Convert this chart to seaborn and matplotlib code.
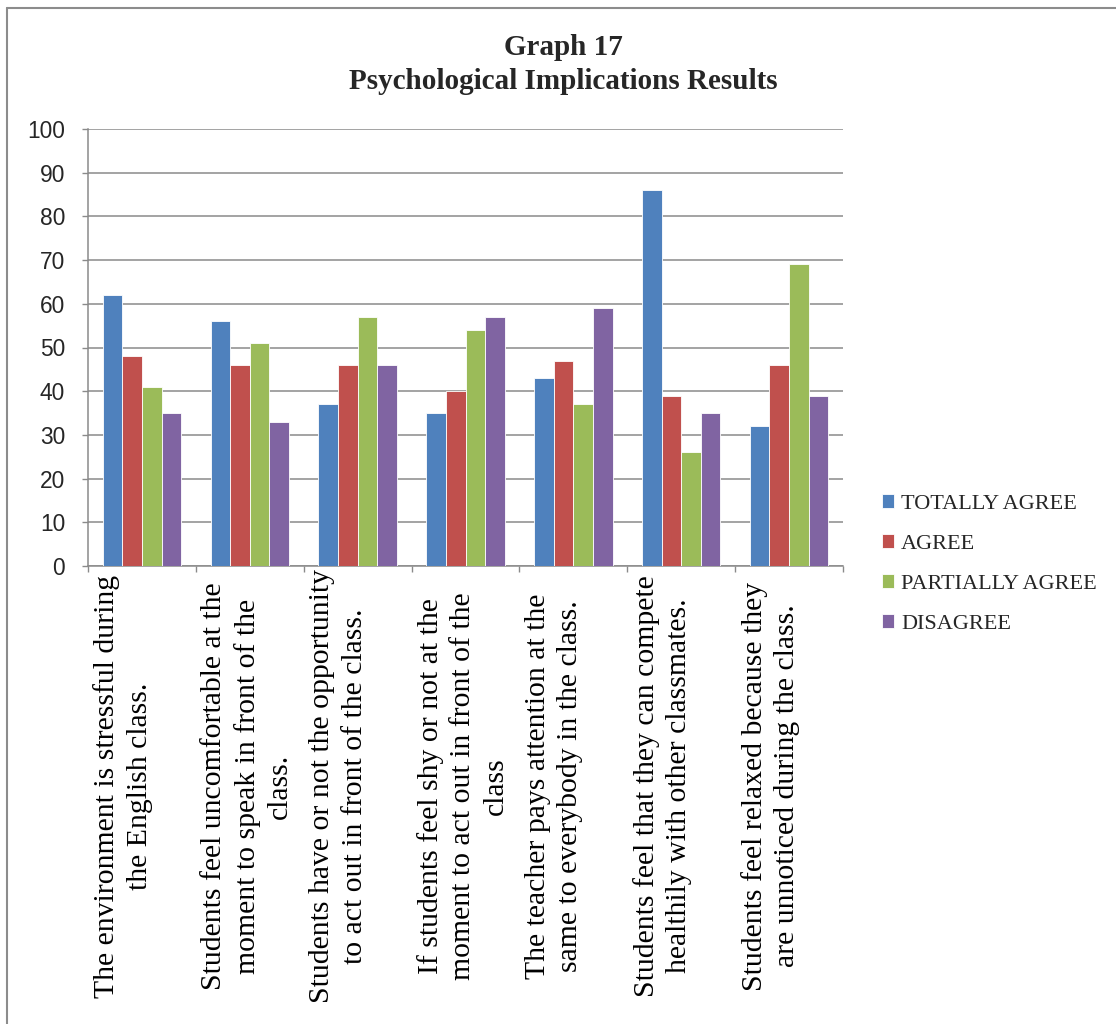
import numpy as np
import pandas as pd
import matplotlib
matplotlib.use("Agg")
import matplotlib.pyplot as plt
import matplotlib.transforms as mtransforms
from matplotlib.lines import Line2D
import seaborn as sns

# Survey statements (x categories)
statements = [
    "The environment is stressful during\nthe English class.",
    "Students feel uncomfortable at the\nmoment to speak in front of the\nclass.",
    "Students have or not the opportunity\nto act out in front of the class.",
    "If students feel shy or not at the\nmoment to act out in front of the\nclass",
    "The teacher pays attention at the\nsame to everybody in the class.",
    "Students feel that they can compete\nhealthily with other classmates.",
    "Students feel relaxed because they\nare unnoticed during the class.",
]
responses = ["TOTALLY AGREE", "AGREE", "PARTIALLY AGREE", "DISAGREE"]

# Response counts per statement
totally_agree = [62, 56, 37, 35, 43, 86, 32]
agree = [48, 46, 46, 40, 47, 39, 46]
partially_agree = [41, 51, 57, 54, 37, 26, 69]
disagree = [35, 33, 46, 57, 59, 35, 39]

y_ticks = list(range(0, 101, 10))

colors = ["#4F81BD", "#C0504D", "#9BBB59", "#8064A2"]
grid_gray = "#8a8a8a"
serif = "Liberation Serif"
sans = "Liberation Sans"

series = [totally_agree, agree, partially_agree, disagree]
rows = []
for resp, vals in zip(responses, series):
    for s, v in zip(statements, vals):
        rows.append({"statement": s, "response": resp, "value": v})
df = pd.DataFrame(rows)

sns.set_style("white")
plt.rcParams["font.family"] = [sans, "DejaVu Sans"]

W, H = 1116, 1024
fig = plt.figure(figsize=(W / 100, H / 100), dpi=100)
ax = fig.add_axes([88 / W, 1 - 566 / H, (843 - 88) / W, (566 - 129) / H])

sns.barplot(
    data=df, x="statement", y="value", hue="response",
    order=statements, hue_order=responses, palette=colors,
    saturation=1, width=0.727, errorbar=None,
    edgecolor="white", linewidth=0.6, ax=ax, zorder=3,
)

ax.set_xlim(-0.5, len(statements) - 0.5)
ax.set_ylim(0, 100)
ax.set_yticks(y_ticks)
ax.set_yticklabels([str(t) for t in y_ticks], fontsize=16.4, family=sans)
ax.set_xlabel("")
ax.set_ylabel("")

# category boundaries as ticks, labels drawn separately
ax.set_xticks([])
ax.set_xticks(np.arange(len(statements) + 1) - 0.5, minor=True)
ax.tick_params(axis="x", which="minor", direction="out", length=4.5,
               width=1.0, color=grid_gray, bottom=True)
ax.tick_params(axis="y", which="major", direction="out", length=4.5,
               width=1.0, color=grid_gray, left=True, pad=12)

ax.yaxis.grid(True, color=grid_gray, linewidth=1.1, zorder=0)
ax.set_axisbelow(True)
for side in ["top", "right"]:
    ax.spines[side].set_visible(False)
for side in ["left", "bottom"]:
    ax.spines[side].set_color(grid_gray)
    ax.spines[side].set_linewidth(1.1)

# rotated statement labels below the axis
trans = mtransforms.blended_transform_factory(ax.transData, fig.transFigure)
for i, s in enumerate(statements):
    ax.text(i - 0.5 + 0.05, 1 - 786 / H, s, transform=trans, rotation=90,
            ha="left", va="center", multialignment="center",
            fontsize=21.4, family=serif, linespacing=1.32, color="black")

# legend
handles, labels = ax.get_legend_handles_labels()
ax.legend(handles, labels, loc="center left",
          bbox_to_anchor=(882 / W, 1 - 564 / H), bbox_transform=fig.transFigure,
          frameon=False, prop={"family": serif, "size": 16},
          handlelength=0.55, handleheight=0.55, handletextpad=0.3,
          labelspacing=0.92, borderpad=0, borderaxespad=0)

# title
fig.text(563 / W, 1 - 34 / H, "Graph 17\nPsychological Implications Results",
         ha="center", va="top", fontsize=21, fontweight="bold",
         family=serif, linespacing=1.35)

# chart frame
fig.add_artist(Line2D([7 / W, 7 / W], [0, 1 - 8 / H], transform=fig.transFigure,
                      color="#8c8c8c", linewidth=1.5))
fig.add_artist(Line2D([7 / W, 1], [1 - 8 / H, 1 - 8 / H], transform=fig.transFigure,
                      color="#8c8c8c", linewidth=1.5))

fig.savefig("out.png", dpi=100)
